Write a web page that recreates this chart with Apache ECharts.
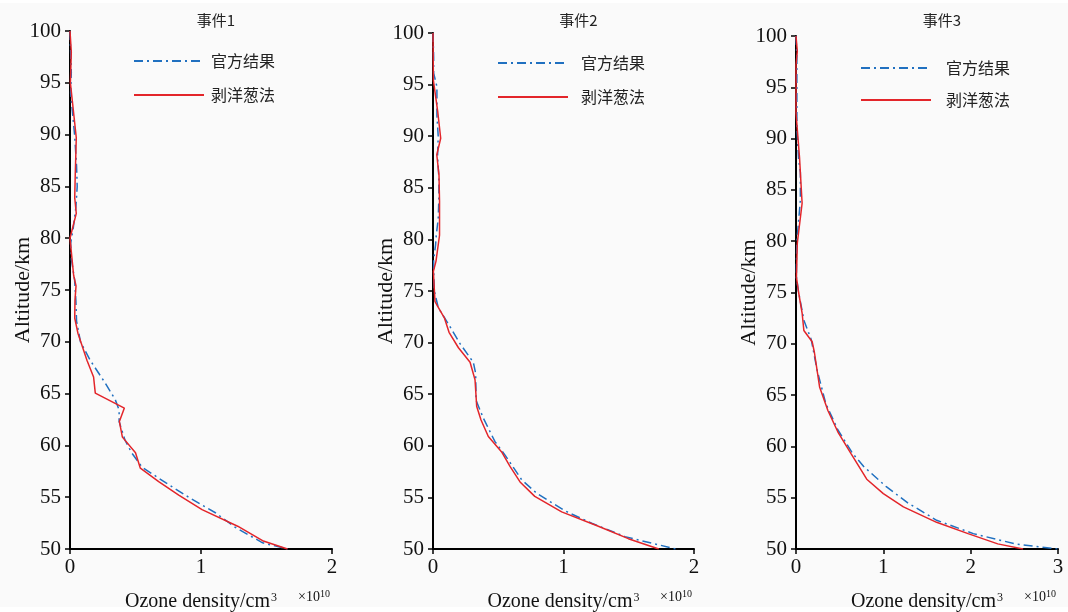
<!DOCTYPE html>
<html>
<head>
<meta charset="utf-8">
<script src="https://cdn.jsdelivr.net/npm/echarts@6/dist/echarts.min.js"></script>
<style>
html,body{margin:0;padding:0;background:#ffffff;}
#chart{width:1068px;height:612px;}
</style>
</head>
<body>
<div id="chart"></div>
<script>
// ---- Data (ozone density in units of 1e10 /cm^3, altitude in km) ----
var panelTitles = ['事件1', '事件2', '事件3'];
var seriesNames = ['官方结果', '剥洋葱法'];
var xMaxes = [2, 2, 3];

// 事件1
var e1OfficialAlt = [100, 98, 96, 94, 92, 90, 87, 85, 83, 81, 79.5, 78, 76, 74, 72, 70, 68.2, 66.0, 64.4, 63.4, 62.3, 60.5, 59.3, 57.9, 56.4, 55.0, 53.5, 52.1, 50.6, 50];
var e1OfficialVal = [0, 0.005, 0.01, 0.005, 0.02, 0.035, 0.05, 0.055, 0.045, 0.025, 0.005, 0.01, 0.035, 0.045, 0.05, 0.08, 0.155, 0.27, 0.346, 0.375, 0.375, 0.42, 0.47, 0.55, 0.73, 0.906, 1.11, 1.26, 1.47, 1.66];
var e1OnionAlt = [100, 98, 95, 89.7, 86.1, 83.9, 82.4, 80.0, 76.4, 75.4, 74.0, 72.3, 70.8, 68.2, 66.6, 65.05, 63.6, 62.3, 60.8, 59.3, 57.8, 56.5, 55.2, 53.8, 52.2, 50.8, 50];
var e1OnionVal = [0, 0.01, 0.003, 0.048, 0.04, 0.036, 0.048, 0, 0.028, 0.046, 0.038, 0.036, 0.061, 0.13, 0.18, 0.193, 0.415, 0.377, 0.40, 0.50, 0.537, 0.677, 0.83, 1.008, 1.28, 1.47, 1.66];

// 事件2
var e2OfficialAlt = [100, 97.7, 96.1, 94.8, 92, 90, 88, 86, 84, 82, 80.4, 79.5, 78, 77, 75, 73.4, 71.8, 69.9, 68.1, 67.0, 64.4, 62.7, 60.4, 59.1, 56.7, 55.4, 53.7, 52.5, 51.2, 50];
var e2OfficialVal = [0, 0.005, 0.005, 0.03, 0.03, 0.04, 0.035, 0.045, 0.045, 0.04, 0.025, 0.02, 0.005, 0.005, 0.01, 0.04, 0.118, 0.207, 0.309, 0.327, 0.33, 0.385, 0.475, 0.552, 0.68, 0.795, 1.01, 1.216, 1.47, 1.86];
var e2OnionAlt = [100, 95.4, 92.4, 89.8, 88.2, 86.2, 83.7, 80.4, 77.9, 76.9, 74.0, 73.5, 72.4, 71.0, 69.5, 68.1, 66.4, 63.8, 62.5, 60.9, 59.4, 58.0, 56.5, 55.1, 53.6, 52.2, 51.0, 50];
var e2OnionVal = [0, 0.003, 0.036, 0.059, 0.029, 0.046, 0.05, 0.05, 0.023, 0.003, 0.015, 0.036, 0.087, 0.123, 0.195, 0.284, 0.322, 0.335, 0.368, 0.424, 0.526, 0.59, 0.667, 0.78, 0.986, 1.267, 1.497, 1.73];

// 事件3
var e3OfficialAlt = [100, 98, 95, 91, 88, 86.7, 84, 82, 80, 78, 76.5, 75, 73, 72.3, 70.4, 67.5, 64.2, 61.6, 59.3, 58.0, 56.1, 54.5, 52.8, 51.5, 50.5, 50];
var e3OfficialVal = [0, 0.01, 0.01, 0.01, 0.03, 0.05, 0.05, 0.03, 0.01, 0.005, 0.005, 0.03, 0.075, 0.09, 0.175, 0.24, 0.34, 0.48, 0.65, 0.78, 1.03, 1.28, 1.61, 2.03, 2.51, 3.0];
var e3OnionAlt = [100, 98.5, 97.2, 92.5, 88.2, 83.7, 79.8, 76.5, 75.0, 73.0, 71.3, 70.2, 69.2, 65.8, 63.5, 61.4, 59.3, 56.8, 55.4, 54.1, 52.6, 51.5, 50.5, 50];
var e3OnionVal = [0, 0.015, 0, 0, 0.04, 0.07, 0.015, 0.005, 0.03, 0.07, 0.09, 0.185, 0.21, 0.27, 0.365, 0.48, 0.63, 0.81, 1.0, 1.23, 1.61, 1.97, 2.31, 2.6];

var officialAlts = [e1OfficialAlt, e2OfficialAlt, e3OfficialAlt];
var officialVals = [e1OfficialVal, e2OfficialVal, e3OfficialVal];
var onionAlts = [e1OnionAlt, e2OnionAlt, e3OnionAlt];
var onionVals = [e1OnionVal, e2OnionVal, e3OnionVal];

// ---- Layout ----
var grids = [
  {left: 70, top: 31, width: 262, height: 518},
  {left: 433, top: 33, width: 261, height: 516},
  {left: 796, top: 36, width: 262, height: 513}
];
var legendPos = [
  {left: 128, top: 48, gap: 18, pad: 2},
  {left: 492, top: 50, gap: 18, pad: 8},
  {left: 855, top: 55, gap: 16, pad: 10}
];
var serif = '"Liberation Serif", "Times New Roman", serif';
var cjk = '"Noto Sans CJK SC", sans-serif';
var blue = '#2070c0';
var red = '#e3252a';

function pairs(xs, ys) {
  var out = [];
  for (var i = 0; i < xs.length; i++) out.push([xs[i], ys[i]]);
  return out;
}

var option = {
  backgroundColor: '#fafafa',
  animation: false,
  title: [], grid: [], xAxis: [], yAxis: [], legend: [], series: [], graphic: []
};

for (var p = 0; p < 3; p++) {
  var g = grids[p];
  option.grid.push({left: g.left, top: g.top, width: g.width, height: g.height,
    containLabel: false, outerBoundsMode: 'none'});
  option.title.push({
    text: panelTitles[p], left: g.left + g.width / 2 + 10, top: 8, textAlign: 'center',
    textStyle: {fontFamily: cjk, fontSize: 15, fontWeight: 'normal', color: '#222'}
  });
  option.xAxis.push({
    type: 'value', gridIndex: p, min: 0, max: xMaxes[p], interval: 1,
    name: 'Ozone density/cm{sup|3}', nameLocation: 'middle', nameGap: 43,
    nameTextStyle: {fontFamily: serif, fontSize: 20, color: '#111',
      rich: {sup: {fontFamily: serif, fontSize: 12, color: '#111', verticalAlign: 'top', padding: [0, 0, 8, 1]}}},
    axisLine: {lineStyle: {color: '#000', width: 2}},
    axisTick: {length: 5, lineStyle: {color: '#000', width: 1.5}},
    axisLabel: {fontFamily: serif, fontSize: 21, color: '#111', margin: 8},
    splitLine: {show: false}
  });
  option.yAxis.push({
    type: 'value', gridIndex: p, min: 50, max: 100, interval: 5,
    name: 'Altitude/km', nameLocation: 'middle', nameGap: 36, nameRotate: 90,
    nameMoveOverlap: false,
    nameTextStyle: {fontFamily: serif, fontSize: 22, color: '#111'},
    axisLine: {show: true, lineStyle: {color: '#000', width: 2}},
    axisTick: {show: true, length: 5, lineStyle: {color: '#000', width: 1.5}},
    axisLabel: {fontFamily: serif, fontSize: 21, color: '#111', margin: 9},
    splitLine: {show: false}
  });
  var lp = legendPos[p];
  option.legend.push({
    data: seriesNames, orient: 'vertical', left: lp.left, top: lp.top,
    itemWidth: 70, itemHeight: 14, itemGap: lp.gap, selectedMode: false,
    itemStyle: {opacity: 0},
    textStyle: {fontFamily: cjk, fontSize: 16, color: '#222', padding: [0, 0, 0, lp.pad]}
  });
  option.series.push({
    name: seriesNames[0], type: 'line', xAxisIndex: p, yAxisIndex: p,
    data: pairs(officialVals[p], officialAlts[p]), showSymbol: false, symbol: 'none',
    lineStyle: {color: blue, width: 1.5, type: [9, 4, 2, 4]}, itemStyle: {color: blue}, z: 3
  });
  option.series.push({
    name: seriesNames[1], type: 'line', xAxisIndex: p, yAxisIndex: p,
    data: pairs(onionVals[p], onionAlts[p]), showSymbol: false, symbol: 'none',
    lineStyle: {color: red, width: 1.5, type: 'solid'}, itemStyle: {color: red}, z: 4
  });
  option.graphic.push({
    type: 'text', left: g.left + g.width - 34, top: 589,
    style: {text: '×10{s|10}', fill: '#111', font: '14px ' + serif,
      rich: {s: {fontSize: 10, fontFamily: serif, fill: '#111', verticalAlign: 'top', padding: [0, 0, 6, 0]}}}
  });
}
option.graphic.push({type: 'rect', left: 0, top: 0, shape: {width: 1068, height: 3}, style: {fill: '#ffffff'}});
option.graphic.push({type: 'rect', left: 0, top: 607, shape: {width: 1068, height: 5}, style: {fill: '#ffffff'}});

var chart = echarts.init(document.getElementById('chart'), null, {renderer: 'canvas'});
chart.setOption(option);
</script>
</body>
</html>
